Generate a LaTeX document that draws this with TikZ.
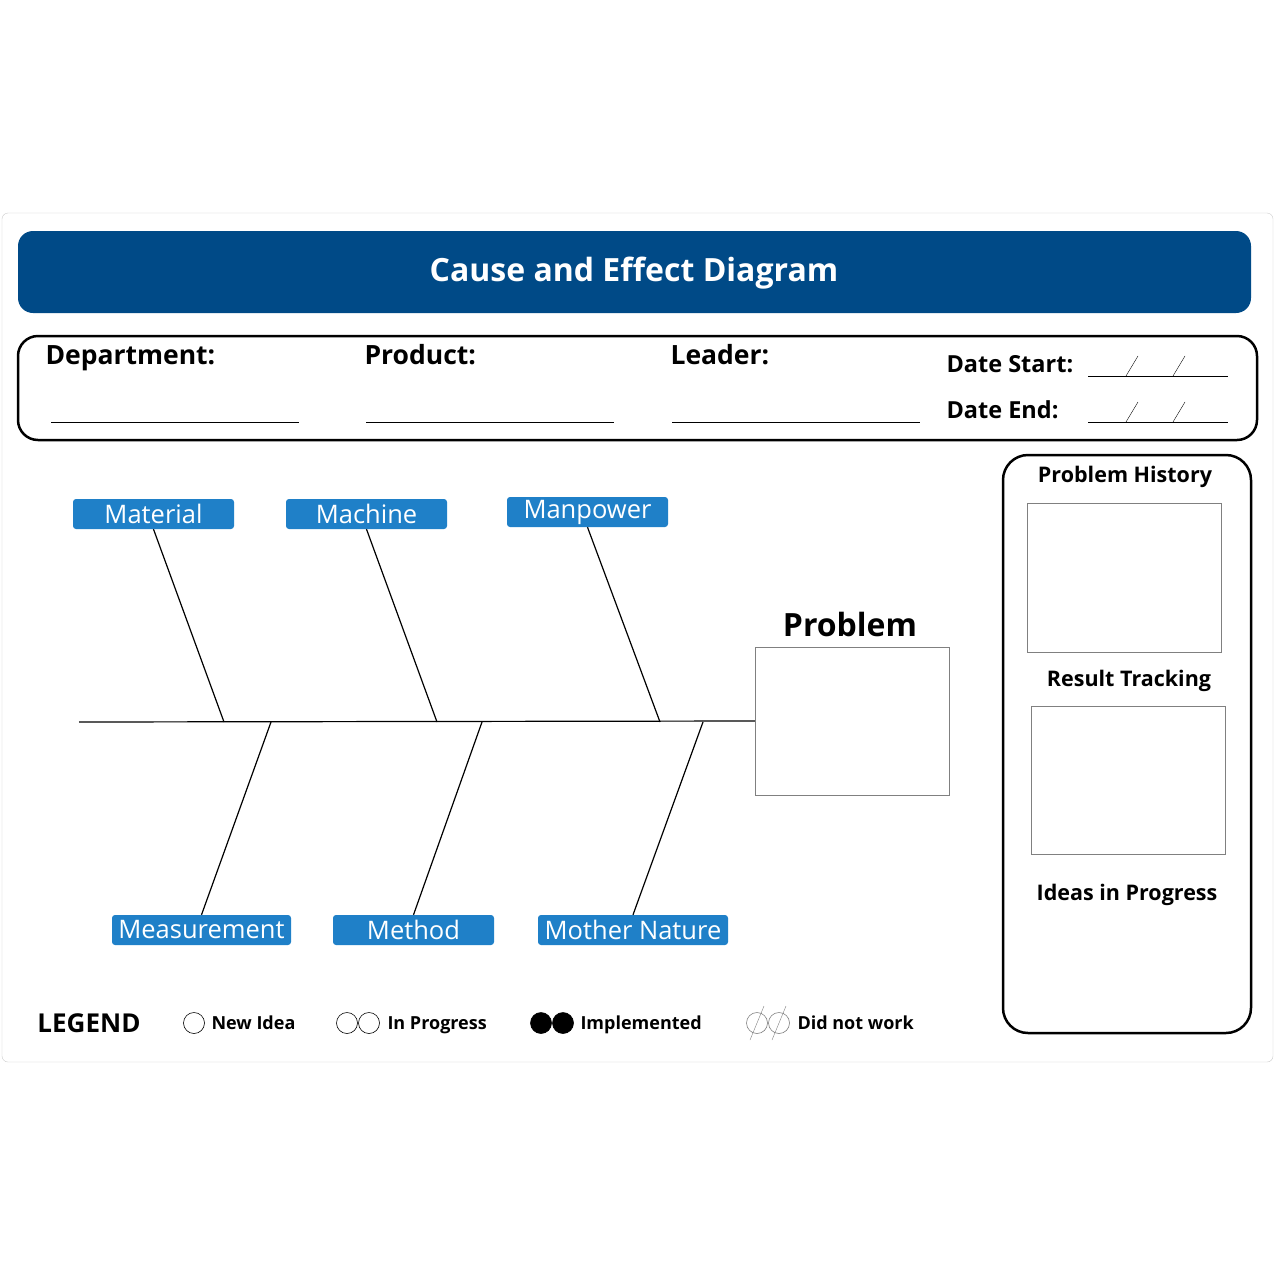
\documentclass[tikz,border=0pt]{standalone}
\usepackage{fontspec}
\setmainfont{Open Sans}
\definecolor{navy}{HTML}{004A87}
\definecolor{lblue}{HTML}{1F80C8}
\begin{document}
\begin{tikzpicture}[x=1pt,y=-1pt,
  cat/.style={fill=lblue,rounded corners=3pt,text=white,font=\fontsize{25.5}{25}\selectfont,inner sep=0pt,anchor=center},
  hd/.style={font=\bfseries\fontsize{26.5}{26}\selectfont,anchor=west},
  sub/.style={font=\bfseries\fontsize{21.5}{22}\selectfont},
  leg/.style={font=\bfseries\fontsize{18}{18}\selectfont,anchor=west},
  bone/.style={line width=1.2pt},
  dot/.style={circle,draw,minimum size=21pt,inner sep=0pt,line width=0.6pt}]
\useasboundingbox (0,0) rectangle (1275,1275);
\fill[white] (0,0) rectangle (1275,1275);
\draw[gray!40,rounded corners=6pt] (2,213) rectangle (1273,1062);
% title
\fill[navy,rounded corners=15pt] (18,231) rectangle (1251,313);
\node[text=white,font=\bfseries\fontsize{32}{32}\selectfont] (title) at (634,273) {Cause and Effect Diagram};
% info
\draw[line width=2.5pt,rounded corners=20pt] (18,336) rectangle (1257,440);
\node[hd] (dep) at (42,358) {Department:};
\node[hd] (prod) at (361,355) {Product:};
\node[hd] (lead) at (667,355) {Leader:};
\node[hd,font=\bfseries\fontsize{23.5}{24}\selectfont] (ds) at (943,364) {Date Start:};
\node[hd,font=\bfseries\fontsize{23.5}{24}\selectfont] (de) at (943,410) {Date End:};
\draw (51,422) -- (299,422) (366,422) -- (614,422) (672,422) -- (920,422);
\foreach \y in {376,422}{
  \draw (1088,\y) -- (1228,\y);
  \draw (1126,\y) -- (1138,\y-20) (1173,\y) -- (1185,\y-20);}
% right panel
\draw[line width=2.5pt,rounded corners=25pt] (1003,455) rectangle (1251,1033);
\node[sub] (ph) at (1125,477) {Problem History};
\draw[gray] (1027,503) rectangle (1221,652);
\node[sub] (rt) at (1129,681) {Result Tracking};
\draw[gray] (1031,706) rectangle (1225,854);
\node[sub] (ip) at (1127,895) {Ideas in Progress};
% fishbone
\node[draw=gray,minimum width=194pt,minimum height=148pt,inner sep=0pt] (prob) at (852,721) {};
\node[font=\bfseries\fontsize{32}{32}\selectfont] (probt) at (850,624) {Problem};
\coordinate (tail) at (79,722);
\draw[bone] (tail) -- (prob.west);
\node[cat,minimum width=161pt,minimum height=30pt] (mat) at (153.5,514) {Material};
\node[cat,minimum width=161pt,minimum height=30pt] (mac) at (366.5,514) {Machine};
\node[cat,minimum width=161pt,minimum height=30pt] (man) at (587.5,512) {Manpower};
\node[cat,minimum width=179pt,minimum height=30pt] (mea) at (201.5,930) {Measurement};
\node[cat,minimum width=161pt,minimum height=30pt] (met) at (413.5,930) {Method};
\node[cat,minimum width=190pt,minimum height=30pt] (mot) at (633,930) {Mother Nature};
\coordinate (j1) at (224,722); \coordinate (j2) at (437,722); \coordinate (j3) at (660,722);
\coordinate (j4) at (271,722); \coordinate (j5) at (482,722); \coordinate (j6) at (703,722);
\draw[bone] (mat.south) -- (j1);
\draw[bone] (mac.south) -- (j2);
\draw[bone] (man.south) -- (j3);
\draw[bone] (mea.north) -- (j4);
\draw[bone] (met.north) -- (j5);
\draw[bone] (mot.north) -- (j6);
% legend
\node[font=\bfseries\fontsize{26}{26}\selectfont] (lg) at (89,1023) {LEGEND};
\node[dot] (a1) at (194,1023) {};
\node[leg] (t1) at (208,1023) {New Idea};
\node[dot] (b1) at (347,1023) {}; \node[dot] (b2) at (369,1023) {};
\node[leg] (t2) at (384,1025) {In Progress};
\node[dot,fill=black] (c1) at (541,1023) {}; \node[dot,fill=black] (c2) at (563,1023) {};
\node[leg] (t3) at (577,1025) {Implemented};
\node[dot,draw=gray] (d1) at (757,1023) {}; \node[dot,draw=gray] (d2) at (779,1023) {};
\draw[gray] (750,1040) -- (764,1006) (772,1040) -- (786,1006);
\node[leg] (t4) at (794,1023) {Did not work};
\end{tikzpicture}
\end{document}
